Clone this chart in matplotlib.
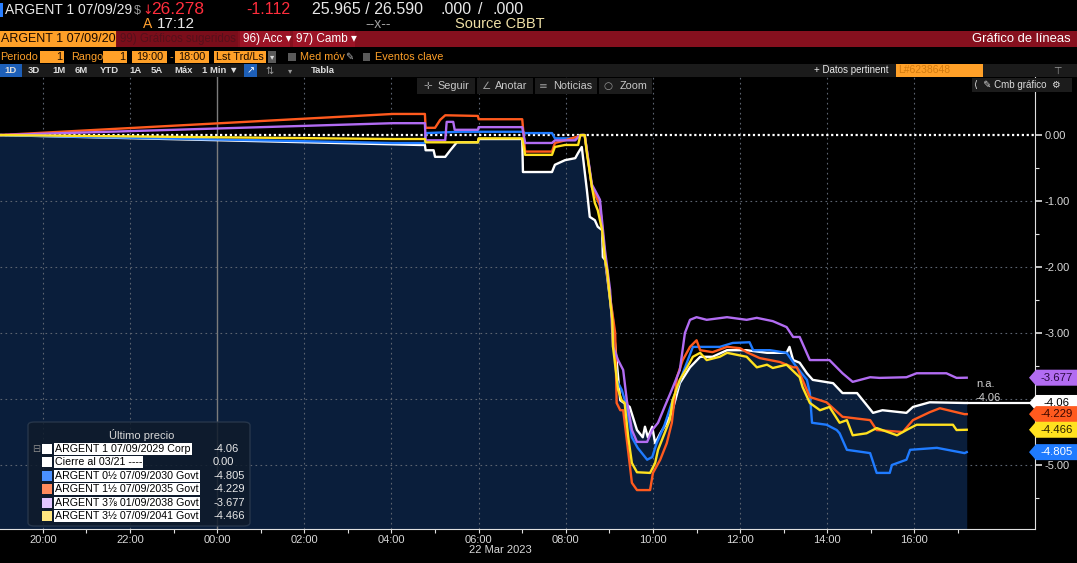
import matplotlib
matplotlib.use("Agg")
import matplotlib.pyplot as plt
import matplotlib.dates as mdates
import matplotlib.patches as mpatches
from matplotlib.ticker import FixedLocator, FormatStrFormatter
import pandas as pd

W, H = 1077, 563
FAM = ['Liberation Sans', 'DejaVu Sans']
SANS = ['DejaVu Sans']
plt.rcParams['font.family'] = FAM

# ---------------- data (times HH:MM; >=19:00 belongs to 21 Mar) ----------------
white_t = ["19:00","04:39","04:46","04:47","04:58","05:00","05:14","05:21","05:27","05:30","05:59","06:00","07:00","07:01","07:41","07:45","07:59","08:13","08:17","08:22","08:29","08:33","08:40","08:44","08:50","08:51","08:54","09:01","09:08","09:15","09:28","09:38","09:46","09:49","09:53","09:59","10:03","10:10","10:19","10:27","10:37","10:51","11:05","11:22","11:42","12:09","12:37","13:04","13:08","13:13","13:22","13:32","13:40","14:08","14:21","14:41","15:03","15:16","15:49","15:58","16:21","17:09","17:12"]
white_v = [0.00,-0.15,-0.15,-0.23,-0.23,-0.33,-0.33,-0.23,-0.15,-0.11,-0.11,-0.06,-0.06,-0.56,-0.56,-0.45,-0.38,-0.35,-0.27,-0.18,-0.83,-1.24,-1.29,-1.39,-1.44,-1.85,-1.89,-2.50,-3.18,-4.02,-4.12,-4.47,-4.58,-4.42,-4.58,-4.42,-4.67,-4.52,-4.36,-4.17,-3.76,-3.52,-3.36,-3.36,-3.26,-3.26,-3.30,-3.30,-3.21,-3.41,-3.45,-3.61,-3.71,-3.76,-3.91,-3.91,-4.21,-4.17,-4.21,-4.12,-4.05,-4.06,-4.06]

blue_t = ["19:00","04:02","04:46","04:47","05:34","07:00","07:04","07:41","07:45","08:13","08:20","08:26","08:36","08:47","08:54","09:01","09:05","09:10","09:17","09:24","09:31","09:39","09:52","09:59","10:05","10:16","10:27","10:41","10:55","11:32","11:50","12:13","12:18","12:41","13:04","13:18","13:32","13:36","13:39","13:59","14:13","14:17","14:27","14:59","15:08","15:26","15:29","15:49","15:54","16:31","17:09","17:12"]
blue_v = [0.00,-0.12,-0.12,0.03,0.05,0.05,0.03,0.03,-0.05,-0.05,0.00,0.00,-0.79,-1.06,-1.85,-2.45,-2.80,-3.71,-3.86,-4.12,-4.58,-4.74,-4.92,-4.88,-4.67,-4.39,-4.02,-3.61,-3.21,-3.21,-3.15,-3.14,-3.26,-3.26,-3.30,-3.52,-3.71,-3.91,-4.36,-4.39,-4.47,-4.52,-4.77,-4.82,-5.12,-5.12,-5.00,-4.92,-4.77,-4.74,-4.82,-4.805]

orange_t = ["19:00","04:02","04:46","04:47","05:00","05:07","05:14","05:59","06:00","07:00","07:04","07:41","07:45","07:59","08:17","08:22","08:26","08:36","08:47","08:54","09:01","09:08","09:10","09:15","09:19","09:24","09:31","09:38","09:56","10:00","10:10","10:19","10:26","10:33","10:41","10:51","11:00","11:05","11:22","11:42","12:00","12:09","12:27","12:55","13:13","13:18","13:26","13:36","13:59","14:21","14:59","15:08","15:44","15:58","16:21","16:35","17:09","17:12"]
orange_v = [0.00,0.32,0.32,0.11,0.11,0.23,0.30,0.29,0.24,0.24,-0.25,-0.25,-0.12,-0.08,-0.02,0.00,0.00,-0.79,-1.06,-1.85,-2.45,-3.00,-4.06,-4.17,-4.17,-4.62,-5.27,-5.38,-5.38,-5.12,-4.92,-4.67,-4.36,-3.67,-3.41,-3.21,-3.11,-3.26,-3.29,-3.21,-3.23,-3.29,-3.38,-3.44,-3.52,-3.52,-3.71,-3.97,-4.05,-4.27,-4.32,-4.47,-4.50,-4.32,-4.20,-4.14,-4.23,-4.229]

purple_t = ["19:00","04:02","04:46","04:47","05:14","05:16","05:25","05:27","05:59","06:00","07:00","07:04","07:41","07:45","08:13","08:20","08:26","08:36","08:47","08:54","09:01","09:05","09:12","09:19","09:24","09:31","09:38","09:52","09:59","10:07","10:16","10:26","10:37","10:44","10:51","11:00","11:14","11:42","12:09","12:23","12:45","13:04","13:13","13:22","13:36","13:46","14:03","14:21","14:35","14:59","15:12","15:49","16:03","16:44","16:58","17:12"]
purple_v = [0.00,0.18,0.18,-0.08,-0.08,0.20,0.20,0.08,0.08,0.12,0.12,-0.12,-0.12,-0.08,-0.08,0.00,0.00,-0.75,-0.98,-1.75,-2.35,-3.21,-3.41,-3.56,-4.02,-4.47,-4.65,-4.65,-4.47,-4.36,-4.12,-3.86,-3.56,-3.00,-2.80,-2.76,-2.80,-2.76,-2.80,-2.77,-2.82,-2.91,-3.06,-3.06,-3.41,-3.41,-3.41,-3.61,-3.74,-3.67,-3.68,-3.67,-3.61,-3.61,-3.68,-3.677]

yellow_t = ["19:00","04:02","04:46","04:47","05:59","06:00","07:00","07:04","07:41","07:45","07:59","08:17","08:20","08:26","08:29","08:36","08:40","08:44","08:50","08:54","08:57","09:01","09:04","09:05","09:12","09:17","09:21","09:26","09:31","09:38","09:56","10:03","10:07","10:16","10:23","10:27","10:37","10:47","10:55","11:05","11:14","11:32","11:42","12:09","12:23","12:37","12:45","13:04","13:22","13:26","13:36","13:50","14:03","14:17","14:27","14:35","14:54","15:08","15:36","15:49","16:03","16:53","16:58","17:12"]
yellow_v = [0.00,-0.06,-0.06,-0.11,-0.11,-0.05,-0.05,-0.30,-0.30,-0.18,-0.15,-0.15,0.00,0.00,-0.27,-0.79,-1.03,-1.14,-1.44,-1.89,-2.05,-2.50,-2.80,-3.21,-3.86,-4.02,-4.06,-4.58,-4.97,-5.11,-5.12,-4.97,-4.77,-4.52,-4.32,-4.02,-3.71,-3.52,-3.36,-3.30,-3.41,-3.36,-3.30,-3.36,-3.52,-3.48,-3.53,-3.48,-3.67,-3.82,-4.06,-4.17,-4.12,-4.36,-4.32,-4.55,-4.52,-4.44,-4.55,-4.47,-4.39,-4.39,-4.47,-4.466]

legend_names = ["ARGENT 1 07/09/2029 Corp", "Cierre al 03/21 ----", "ARGENT 0½ 07/09/2030 Govt",
                "ARGENT 1½ 07/09/2035 Govt", "ARGENT 3⅞ 01/09/2038 Govt", "ARGENT 3½ 07/09/2041 Govt"]
legend_last = ["-4.06", "0.00", "-4.805", "-4.229", "-3.677", "-4.466"]
tag_labels = ["-3.677", "-4.06", "-4.229", "-4.466", "-4.805"]
tag_values = [-3.677, -4.06, -4.229, -4.466, -4.805]
y_ticks = [0, -1, -2, -3, -4, -5]
x_label_hours = ["2023-03-21 20:00", "2023-03-21 22:00", "2023-03-22 00:00", "2023-03-22 02:00",
                 "2023-03-22 04:00", "2023-03-22 06:00", "2023-03-22 08:00", "2023-03-22 10:00",
                 "2023-03-22 12:00", "2023-03-22 14:00", "2023-03-22 16:00"]

C_WHITE, C_BLUE, C_ORANGE, C_PURPLE, C_YELLOW = "#ffffff", "#1f7bff", "#ff5a1e", "#b26cf2", "#ffe11f"
NAVY = "#0a1e3b"


def ts(t):
    hh = int(t.split(":")[0])
    day = "2023-03-21" if hh >= 19 else "2023-03-22"
    return pd.Timestamp(f"{day} {t}")


def series(tl):
    return [ts(t) for t in tl]


def fx(x):
    return x / W


def fy(y):
    return 1 - y / H


def rect(xa, ya, xb, yb, color, z=1):
    fig.patches.append(mpatches.Rectangle((fx(xa), fy(yb)), (xb - xa) / W, (yb - ya) / H,
                                          transform=fig.transFigure, facecolor=color,
                                          edgecolor="none", zorder=z))


fig = plt.figure(figsize=(W / 100, H / 100), dpi=100, facecolor="black")

# ---------------- main axes ----------------
ax = fig.add_axes([0, fy(529), 1035 / W, (529 - 77) / H])
ax.set_facecolor("black")
x0 = pd.Timestamp("2023-03-21 19:01")
x1 = pd.Timestamp("2023-03-22 18:46")
ax.set_xlim(x0, x1)
ax.set_ylim(-5.97, 0.88)

wt = series(white_t)
ax.fill_between(wt, white_v, -6.5, color=NAVY, lw=0, zorder=1)

# grids
major_x = [pd.Timestamp(s) for s in x_label_hours]
for t in major_x:
    if t.hour == 0:
        ax.axvline(t, color="#7c7c7c", lw=1.0, zorder=2)
    else:
        ax.axvline(t, color="#5c6470", lw=0.8, ls=(0, (1.5, 3)), zorder=2)
for v in y_ticks[1:]:
    ax.axhline(v, color="#5c6470", lw=0.8, ls=(0, (1.5, 3)), zorder=2)
ax.axhline(0, color="white", lw=1.6, ls=(0, (1, 1.2)), zorder=2)

lw = 1.7
ax.plot(wt, white_v, color=C_WHITE, lw=lw, zorder=4)
ax.plot(series(blue_t), blue_v, color=C_BLUE, lw=lw, zorder=5)
ax.plot(series(orange_t), orange_v, color=C_ORANGE, lw=lw, zorder=6)
ax.plot(series(purple_t), purple_v, color=C_PURPLE, lw=lw, zorder=7)
ax.plot(series(yellow_t), yellow_v, color=C_YELLOW, lw=lw, zorder=8)
ax.hlines(white_v[-1], wt[-1], x1, color="white", lw=1.6, zorder=4)

# axes styling
for s in ["left", "top"]:
    ax.spines[s].set_visible(False)
ax.spines["right"].set_color("#e0e0e0")
ax.spines["bottom"].set_color("#e0e0e0")
ax.yaxis.tick_right()
ax.yaxis.set_major_locator(FixedLocator(y_ticks))
ax.yaxis.set_minor_locator(FixedLocator([-0.5, -1.5, -2.5, -3.5, -4.5, -5.5]))
ax.yaxis.set_major_formatter(FormatStrFormatter("%.2f"))
ax.tick_params(axis="y", which="major", colors="#e0e0e0", labelcolor="#d8d8d8", length=5, width=1.2,
               pad=2, labelsize=8)
ax.tick_params(axis="y", which="minor", colors="#e0e0e0", length=3, width=0.8)
ax.xaxis.set_major_locator(FixedLocator(mdates.date2num(major_x)))
minor_x = pd.date_range("2023-03-21 21:00", "2023-03-22 18:00", freq="2h")
ax.xaxis.set_minor_locator(FixedLocator(mdates.date2num(minor_x)))
ax.xaxis.set_major_formatter(mdates.DateFormatter("%H:%M"))
ax.tick_params(axis="x", which="both", colors="#e0e0e0", labelcolor="#d8d8d8", length=3, width=0.8,
               pad=1.5, labelsize=8)
fig.text(fx(500), fy(550), "22 Mar 2023", color="#d8d8d8", size=8, ha="center", va="center")

# n.a. text
fig.text(fx(976), fy(384), "n.a.", color="#d0d0d0", size=8, va="center")
fig.text(fx(976), fy(398), "-4.06", color="#d0d0d0", size=8, va="center")

# ---------------- right-side value tags ----------------
tag_styles = [(C_PURPLE, "#2a0a40"), ("#ffffff", "#000000"), (C_ORANGE, "#3a0800"),
              (C_YELLOW, "#2a2000"), (C_BLUE, "#ffffff")]
for lab, val, (fc, tc) in zip(tag_labels, tag_values, tag_styles):
    yd = ax.transData.transform((mdates.date2num(x1), val))[1]
    ypx = H - yd
    verts = [(1029, ypx), (1036, ypx - 8), (1077, ypx - 8), (1077, ypx + 8), (1036, ypx + 8)]
    poly = mpatches.Polygon([(fx(a), fy(b)) for a, b in verts], closed=True, transform=fig.transFigure,
                            facecolor=fc, edgecolor="none", zorder=5)
    fig.patches.append(poly)
    fig.text(fx(1057), fy(ypx), lab, color=tc, size=8.2, ha="center", va="center", zorder=6)

# ---------------- legend ----------------
leg = mpatches.FancyBboxPatch((fx(28), fy(526)), (250 - 28) / W, (526 - 422) / H,
                              boxstyle="round,pad=0,rounding_size=0.006", transform=fig.transFigure,
                              facecolor="#0f1b2b", edgecolor="#2b3a4e", lw=1, alpha=0.85, zorder=2)
fig.patches.append(leg)
fig.text(fx(142), fy(435), "Último precio", color="#d8d8d8", size=8, ha="center", va="center", zorder=3)
sq_cols = ["#ffffff", "#ffffff", "#4a90ff", "#ff8a5c", "#e2c6ff", "#ffe680"]
for i, (name, last, col) in enumerate(zip(legend_names, legend_last, sq_cols)):
    yc = 449 + i * 13.4
    rect(42, yc - 5, 52, yc + 5, col, 3)
    fig.text(fx(55), fy(yc), name, color="black", size=7.7, va="center", zorder=4,
             bbox=dict(facecolor="white", edgecolor="none", boxstyle="square,pad=0.1"))
    fig.text(fx(213), fy(yc), last, color="#e8e8e8", size=8, va="center", zorder=4)
fig.text(fx(32), fy(449), "⊟", color="#8a8a8a", size=7, va="center", family=SANS, zorder=4)

# ---------------- header ----------------
rect(0, 3, 3, 17, "#2a7fff")
fig.text(fx(5), fy(10), "ARGENT 1 07/09/29", color="#e8e8e8", size=10, va="center")
fig.text(fx(134), fy(11), "$", color="#9a9a9a", size=9, va="center")
fig.text(fx(142), fy(10), "↓", color="#ff2d3c", size=9, va="center", family=SANS)
fig.text(fx(151), fy(10), "26.278", color="#ff2d3c", size=12.5, va="center")
fig.text(fx(246), fy(10), "-1.112", color="#ff2d3c", size=11.5, va="center")
fig.text(fx(312), fy(10), "25.965 / 26.590", color="#e8e8e8", size=11.5, va="center")
fig.text(fx(440), fy(10), ".000", color="#e8e8e8", size=11.5, va="center")
fig.text(fx(478), fy(10), "/", color="#e8e8e8", size=11.5, va="center")
fig.text(fx(492), fy(10), ".000", color="#e8e8e8", size=11.5, va="center")
fig.text(fx(143), fy(24), "A", color="#ffa030", size=10, va="center")
fig.text(fx(157), fy(24), "17:12", color="#e8e8e8", size=11, va="center")
fig.text(fx(365), fy(24), "--x--", color="#a0a0a0", size=10, va="center")
fig.text(fx(455), fy(24), "Source CBBT", color="#efe0a6", size=10.5, va="center")

# red band
rect(0, 31, W, 47, "#86101e")
rect(0, 31, 116, 47, "#ffa028")
rect(117, 31, 238, 47, "#7a0d1a")
rect(240, 31, 290, 47, "#9c1426")
rect(293, 31, 355, 47, "#9c1426")
fig.text(fx(1), fy(39), "ARGENT 1 07/09/20", color="#1a0a00", size=9, va="center")
fig.text(fx(120), fy(39), "99) Gráficos sugeridos", color="#55101a", size=8.3, va="center")
fig.text(fx(243), fy(39), "96) Acc ▾", color="#ffffff", size=8.5, va="center")
fig.text(fx(296), fy(39), "97) Camb ▾", color="#ffffff", size=8.5, va="center")
fig.text(fx(1071), fy(39), "Gráfico de líneas", color="#ffffff", size=9.4, va="center", ha="right")

# row 4
OR = "#ffa028"


def obox(x_a, x_b, text, ha="center"):
    rect(x_a, 51, x_b, 63, OR)
    if ha == "right":
        fig.text(fx(x_b - 2), fy(57), text, color="#1a0a00", size=7.8, va="center", ha="right")
    else:
        fig.text(fx((x_a + x_b) / 2), fy(57), text, color="#1a0a00", size=7.8, va="center", ha="center")


fig.text(fx(0), fy(57), "Periodo", color=OR, size=7.8, va="center")
obox(40, 64, "1", "right")
fig.text(fx(71), fy(57), "Rango", color=OR, size=7.8, va="center")
obox(103, 127, "1", "right")
obox(132, 167, "19:00")
fig.text(fx(169.5), fy(57), "-", color=OR, size=7.8, va="center")
obox(175, 209, "18:00")
obox(214, 266, "Lst Trd/Ls")
rect(268, 51, 276, 63, "#5a5a5a")
fig.text(fx(272), fy(57), "▾", color="#dddddd", size=6, va="center", ha="center", family=SANS)
rect(288, 53, 296, 61, "#5a5a5a")
fig.text(fx(300), fy(57), "Med móv", color=OR, size=7.8, va="center")
fig.text(fx(345), fy(57), "✎", color="#bbbbbb", size=7, va="center", family=SANS)
rect(363, 53, 370, 61, "#5a5a5a")
fig.text(fx(375), fy(57), "Eventos clave", color=OR, size=7.8, va="center")

# row 5
rect(0, 64, W, 77, "#1b1b1b")
rect(0, 64, 22, 77, "#1d5fb8")
for x, t in [(4, "1D"), (28, "3D"), (52, "1M"), (75, "6M"), (100, "YTD"), (129, "1A"), (151, "5A"),
             (174, "Máx"), (202, "1 Min ▼"), (311, "Tabla")]:
    fig.text(fx(x), fy(70.5), t, color="#dcdcdc", size=6.8, va="center", weight="bold")
rect(244, 64, 257, 77, "#1d5fb8")
fig.text(fx(250.5), fy(70.5), "↗", color="#ffffff", size=7, va="center", ha="center", family=SANS)
fig.text(fx(265), fy(70.5), "⇅", color="#9a9a9a", size=7, va="center", family=SANS)
fig.text(fx(288), fy(70.5), "▾", color="#9a9a9a", size=6, va="center", family=SANS)
fig.text(fx(814), fy(70.5), "+ Datos pertinent", color="#e8e8e8", size=7, va="center")
rect(896, 64, 983, 77, OR)
fig.text(fx(898), fy(70.5), "L#6238648", color="#d07a10", size=7.5, va="center")
fig.text(fx(1053), fy(70.5), "⊤", color="#9a9a9a", size=7, va="center", family=SANS)

# row 6 toolbar
for xa, xb, ico, xi, t, xt in [(417, 475, "✛", 423, "Seguir", 437), (477, 533, "∠", 481, "Anotar", 495),
                               (535, 597, "≡", 539, "Noticias", 553), (599, 652, "○", 603, "Zoom", 620)]:
    rect(xa, 78, xb, 94, "#1c1c1c")
    fig.text(fx(xi), fy(86), ico, color="#9a9a9a", size=7.5, va="center", family=SANS)
    fig.text(fx(xt), fy(86), t, color="#c8c8c8", size=7.8, va="center")
rect(972, 78, 1072, 92, "#1c1c1c")
fig.text(fx(974), fy(85), "⟨  ✎ Cmb gráfico  ⚙", color="#dcdcdc", size=7, va="center")

fig.savefig("out.png", dpi=100, facecolor="black")
